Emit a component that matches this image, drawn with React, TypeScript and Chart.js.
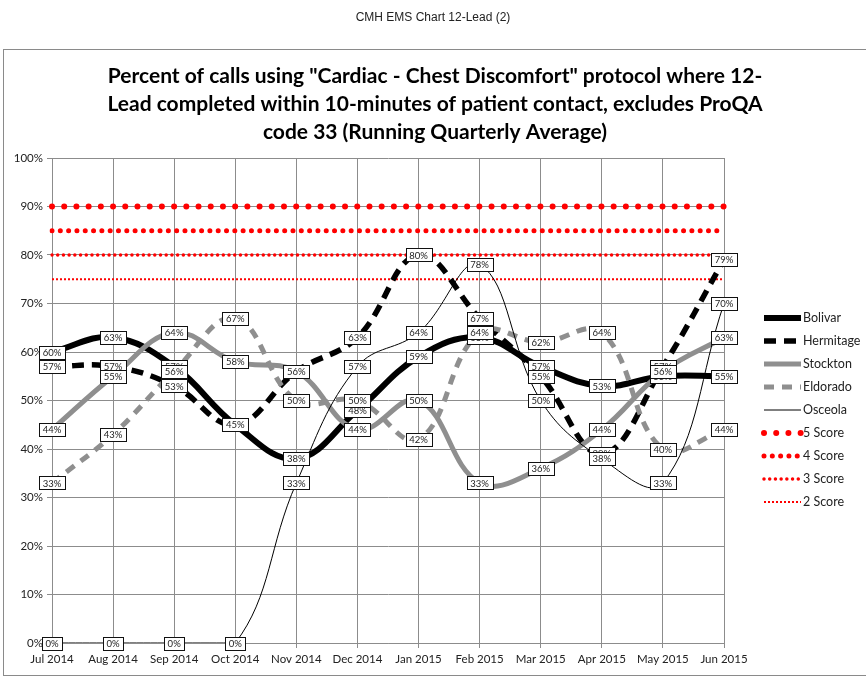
import React, { useEffect, useRef } from "react";
import { Chart, registerables } from "chart.js";

Chart.register(...registerables);

const HEADER = "CMH EMS Chart 12-Lead (2)";
const TITLE_LINES = [
  "Percent of calls using \"Cardiac - Chest Discomfort\" protocol where 12-",
  "Lead completed within 10-minutes of patient contact, excludes ProQA",
  "code 33 (Running Quarterly Average)",
];

const months = [
  "Jul 2014", "Aug 2014", "Sep 2014", "Oct 2014", "Nov 2014", "Dec 2014",
  "Jan 2015", "Feb 2015", "Mar 2015", "Apr 2015", "May 2015", "Jun 2015",
];

const bolivar = [60, 63, 57, 45, 38, 48, 59, 63, 57, 53, 55, 55];
const hermitage = [57, 57, 53, 45, 56, 63, 80, 67, 55, 39, 57, 79];
const stockton = [44, 55, 64, 58, 56, 44, 50, 33, 36, 44, 56, 63];
const eldorado = [33, 43, 56, 67, 50, 50, 42, 64, 62, 64, 40, 44];
const osceola = [0, 0, 0, 0, 33, 57, 64, 78, 50, 38, 33, 70];

const score5 = [90, 90, 90, 90, 90, 90, 90, 90, 90, 90, 90, 90];
const score4 = [85, 85, 85, 85, 85, 85, 85, 85, 85, 85, 85, 85];
const score3 = [80, 80, 80, 80, 80, 80, 80, 80, 80, 80, 80, 80];
const score2 = [75, 75, 75, 75, 75, 75, 75, 75, 75, 75, 75, 75];

const FONT = "Lato, 'Open Sans', sans-serif";

const decoPlugin = {
  id: "deco",
  beforeDraw(chart: any) {
    const ctx = chart.ctx as CanvasRenderingContext2D;
    ctx.save();
    ctx.fillStyle = "#ffffff";
    ctx.fillRect(0, 0, chart.width, chart.height);
    ctx.fillStyle = "#222";
    ctx.font = "12px 'Liberation Sans', Arial, sans-serif";
    ctx.textAlign = "center";
    ctx.textBaseline = "middle";
    ctx.fillText(HEADER, 433, 18);
    ctx.strokeStyle = "#8a8a8a";
    ctx.lineWidth = 1;
    ctx.strokeRect(3.5, 49.5, 900, 626);
    ctx.fillStyle = "#000";
    ctx.font = `bold 21px ${FONT}`;
    TITLE_LINES.forEach((t, i) => ctx.fillText(t, 435, 76 + i * 28));
    ctx.restore();
  },
  afterDatasetsDraw(chart: any) {
    const ctx = chart.ctx as CanvasRenderingContext2D;
    ctx.save();
    ctx.font = `9.5px ${FONT}`;
    ctx.textAlign = "center";
    ctx.textBaseline = "middle";
    chart.data.datasets.forEach((ds: any, di: number) => {
      if (!ds.showLabels) return;
      const meta = chart.getDatasetMeta(di);
      meta.data.forEach((pt: any, i: number) => {
        const txt = ds.data[i] + "%";
        const tw = ctx.measureText(txt).width;
        const w = Math.round(tw + 7);
        const h = 13;
        const x = Math.round(pt.x - w / 2) + 0.5;
        const y = Math.round(pt.y - h / 2) + 0.5;
        ctx.fillStyle = "#fff";
        ctx.fillRect(x, y, w, h);
        ctx.strokeStyle = "#111";
        ctx.lineWidth = 1;
        ctx.strokeRect(x, y, w, h);
        ctx.fillStyle = "#222";
        ctx.fillText(txt, pt.x, pt.y + 0.5);
      });
    });
    ctx.restore();
  },
  afterDraw(chart: any) {
    const ctx = chart.ctx as CanvasRenderingContext2D;
    ctx.save();
    chart.data.datasets.forEach((ds: any, i: number) => {
      const y = 318 + i * 23;
      ctx.beginPath();
      ctx.strokeStyle = ds.borderColor;
      ctx.lineWidth = ds.borderWidth;
      ctx.lineCap = ds.borderCapStyle || "butt";
      ctx.setLineDash(ds.borderDash || []);
      ctx.moveTo(764, y);
      ctx.lineTo(801, y);
      ctx.stroke();
      ctx.setLineDash([]);
      ctx.fillStyle = "#222";
      ctx.font = `12.5px ${FONT}`;
      ctx.textAlign = "left";
      ctx.textBaseline = "middle";
      ctx.fillText(ds.label, 803, y);
    });
    ctx.restore();
  },
};

export default function App() {
  const ref = useRef<HTMLCanvasElement | null>(null);
  useEffect(() => {
    if (!ref.current) return;
    const main = (label: string, data: number[], color: string, width: number, dash: number[], order: number) => ({
      label, data, borderColor: color, backgroundColor: color, borderWidth: width, borderDash: dash,
      borderCapStyle: "butt", pointRadius: 0, tension: 0.4, fill: false, showLabels: true, order,
    });
    const score = (label: string, data: number[], width: number, dash: number[], cap: string) => ({
      label, data, borderColor: "#ff0000", backgroundColor: "#ff0000", borderWidth: width, borderDash: dash,
      borderCapStyle: cap, pointRadius: 0, tension: 0, fill: false, showLabels: false, order: 20,
    });
    const chart = new Chart(ref.current, {
      type: "line",
      data: {
        labels: months,
        datasets: [
          main("Bolivar", bolivar, "#000000", 6, [], 5),
          main("Hermitage", hermitage, "#000000", 5.5, [12, 8], 4),
          main("Stockton", stockton, "#8f8f8f", 5, [], 3),
          main("Eldorado", eldorado, "#8f8f8f", 5, [10, 8], 2),
          main("Osceola", osceola, "#000000", 1, [], 1),
          score("5 Score", score5, 6, [0.01, 12.2], "round"),
          score("4 Score", score4, 5, [0.01, 8.3], "round"),
          score("3 Score", score3, 3.5, [0.01, 5.7], "round"),
          score("2 Score", score2, 2, [2, 2], "butt"),
        ] as any,
      },
      options: {
        responsive: false,
        animation: false,
        devicePixelRatio: 1,
        layout: { padding: { left: 8, top: 158, right: 142, bottom: 8 } },
        plugins: {
          legend: { display: false },
          title: { display: false },
          tooltip: { enabled: false },
        },
        scales: {
          x: {
            type: "category",
            offset: false,
            grid: { color: "#8c8c8c", tickLength: 5, lineWidth: 1 },
            border: { color: "#8c8c8c" },
            ticks: { font: { family: FONT, size: 11.5 }, color: "#222", padding: 4, maxRotation: 0, autoSkip: false },
            afterFit(s: any) { s.height = 26; },
          },
          y: {
            min: 0,
            max: 100,
            grid: { color: "#8c8c8c", tickLength: 5, lineWidth: 1 },
            border: { color: "#8c8c8c" },
            ticks: { stepSize: 10, font: { family: FONT, size: 11.5 }, color: "#222", padding: 4, callback: (v: any) => v + "%" },
            afterFit(s: any) { s.width = 44; },
          },
        },
      } as any,
      plugins: [decoPlugin],
    });
    return () => chart.destroy();
  }, []);
  return (
    <div style={{ position: "absolute", left: 0, top: 0, width: 866, height: 677 }}>
      <canvas ref={ref} width={866} height={677} style={{ display: "block" }} />
    </div>
  );
}
